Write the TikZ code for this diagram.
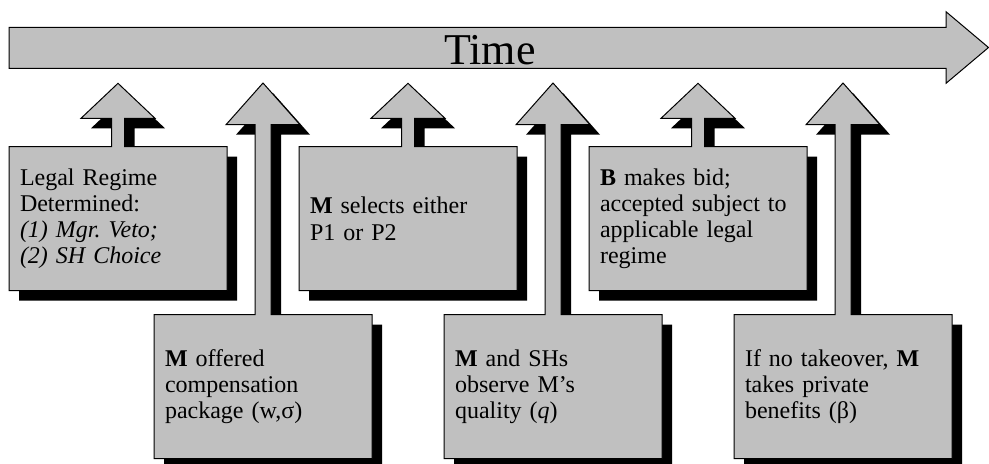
\documentclass[tikz,border=0pt]{standalone}
\usepackage{fontspec}
\setmainfont{Liberation Serif}
\usetikzlibrary{positioning,calc,backgrounds}
\definecolor{boxgray}{RGB}{192,192,192}

\tikzset{
  evbox/.style={minimum width=109pt, minimum height=72pt, text width=98pt,
    inner xsep=5.5pt, inner ysep=0pt, outer sep=0pt, align=left,
    font=\fontsize{12}{13.1}\selectfont},
  shadowfill/.style={fill=black},
  calloutfill/.style={fill=boxgray, draw=black, line width=0.5pt, line join=miter},
}

\begin{document}
\frenchspacing
\begin{tikzpicture}[x=0.5pt, y=-0.5pt]
    \useasboundingbox (0,0) rectangle (989,463);

    \node[font=\fontsize{22}{24}\selectfont, anchor=base] (time) at (490,64.3) {Time};

    \node[evbox, anchor=north west] (legal) at (9,146.7) {Legal Regime\\Determined:\\\textit{(1) Mgr. Veto;}\\\textit{(2) SH Choice}};
    \node[evbox, right=36pt of legal] (select) {\textbf{M} selects either\\P1 or P2};
    \node[evbox, right=36pt of select] (bid) {\textbf{B} makes bid;\\accepted subject to\\applicable legal\\regime};
    \node[evbox, below right=12pt and -36.5pt of legal] (comp) {\textbf{M} offered\\compensation\\package (w,σ)};
    \node[evbox, right=36pt of comp] (observe) {\textbf{M} and SHs\\observe M’s\\quality (\textit{q})};
    \node[evbox, right=36pt of observe] (benefit) {If no takeover, \textbf{M}\\takes private\\benefits (β)};

    \begin{scope}[on background layer]
      \draw[calloutfill] (9,27.3) -- (946,27.3) -- (946,11.7) -- (988.5,47.5)
        -- (946,83.3) -- (946,68.3) -- (9,68.3) -- cycle;
      \foreach \b/\s/\hb/\ht in {legal/6.5/28.4/63.4, select/6.5/28.4/63.4, bid/6.5/28.4/63.4,
          comp/8/190/231.7, observe/8/190/231.7, benefit/8/190/231.7}
        \foreach \dx/\sty in {10/shadowfill, 0/calloutfill}
          \path[\sty] ($(\b.north west)+(\dx,\dx)$) -- ++(109-\s,0) -- ++(0,-\hb)
            -- ++(\s-37,0) -- ++(37,\hb-\ht) -- ++(37,\ht-\hb) -- ++(\s-37,0)
            -- ++(0,\hb) -- ++(109-\s,0) -- ++(0,144) -- ++(-218,0) -- cycle;
    \end{scope}
\end{tikzpicture}
\end{document}
